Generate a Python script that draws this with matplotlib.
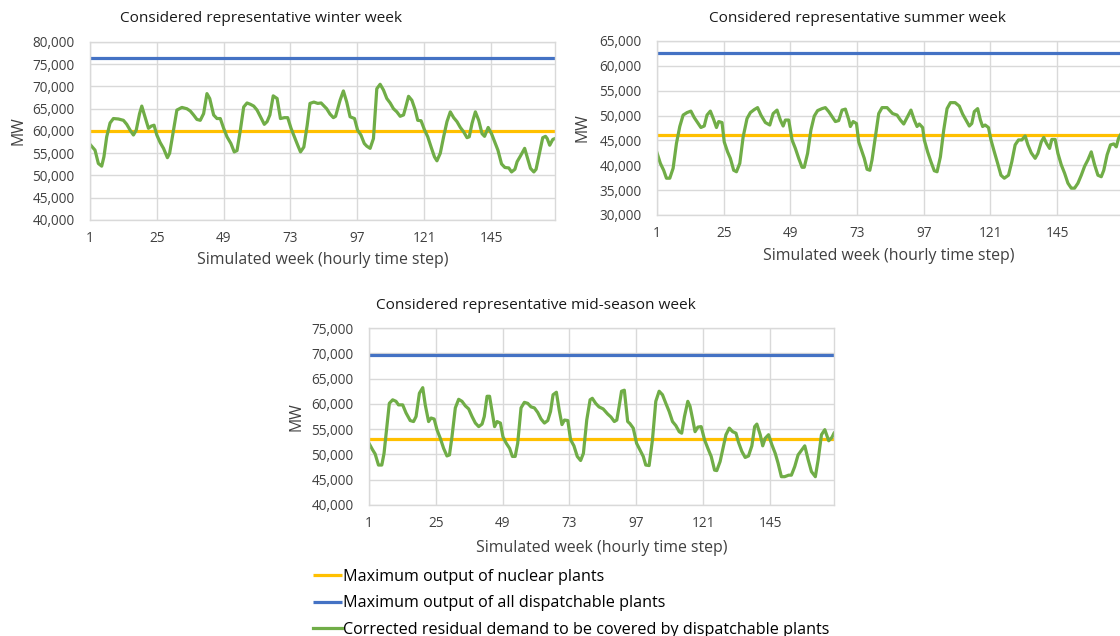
import matplotlib
matplotlib.use("Agg")
import matplotlib.pyplot as plt
from matplotlib.ticker import FuncFormatter

plt.rcParams['font.family'] = ['Open Sans', 'DejaVu Sans']

# ---------------- data ----------------
hour_ticks = [1, 25, 49, 73, 97, 121, 145]

winter_hour = [1, 2.8, 4, 5.2, 6, 7, 8.2, 9.4, 11.2, 13, 14.2, 15.4, 16.6, 17.6, 18.8, 19.6, 20.4, 22, 23, 24,
               25, 26.2, 27.4, 28.8, 29.6, 31, 32.2, 34, 35.8, 37, 38.2, 39.4, 40.6, 41.8, 43, 44, 45.4, 46.6, 47.8,
               49, 50.2, 51.6, 52.8, 53.8, 55, 56.2, 57.4, 58.6, 59.8, 61, 62.2, 63.6, 64.6, 65.6, 66.8, 68.2, 69.4,
               70.8, 72, 73.2, 74.4, 75.6, 76.6, 77.8, 79, 80, 81.4, 82.8, 84, 86, 87.2, 88.4, 89.2, 90.8, 92, 93.2,
               94.4, 96, 97.1, 98.3, 99.5, 100.4, 101.6, 102.8, 104, 105.2, 106.4, 107.6, 108.8, 110, 111.2, 112.4,
               113.6, 114.4, 115.4, 116.6, 117.8, 118.7, 119.9, 121.1, 122.3, 123.5, 124.7, 125.6, 126.8, 128, 129.2,
               130.4, 131.6, 132.8, 134, 135.2, 136.4, 137.2, 138.2, 139.4, 140.6, 141.8, 142.7, 144, 145.2, 146.3,
               147.5, 148.8, 150, 151.4, 152.4, 153.6, 154.4, 155.6, 157.1, 158, 159.2, 160.4, 161.2, 162.4, 163.6,
               164.6, 165.2, 166.1, 167.2, 168]
winter_mw = [57000, 55700, 52700, 52100, 54200, 58700, 61800, 62800, 62700, 62400, 61500, 60200, 59100, 60200,
             63900, 65600, 63900, 60600, 61100, 61300, 59100, 57400, 56100, 54000, 55000, 60200, 64700, 65300,
             65000, 64500, 63600, 62600, 62400, 63900, 68400, 67300, 63600, 62800, 62800, 60600, 58700, 57200,
             55300, 55600, 60200, 65400, 66300, 66000, 65600, 64700, 63200, 61500, 62100, 63600, 67900, 67300,
             62800, 63000, 63000, 60600, 58700, 56800, 55300, 56400, 61300, 66200, 66500, 66200, 66300, 65000,
             63800, 63000, 63300, 66900, 69000, 66500, 63200, 62800, 60200, 59100, 57200, 56600, 56100, 58300,
             69500, 70500, 69200, 67300, 66300, 65000, 64300, 63300, 63600, 65400, 67800, 66900, 64700, 62400,
             62300, 60300, 58700, 56400, 54200, 53300, 55000, 58700, 62100, 64300, 63000, 62100, 60800, 59800,
             58500, 58700, 61700, 64300, 62400, 59400, 58800, 60800, 59400, 57600, 55700, 52600, 51800, 51700,
             50800, 51400, 53100, 54400, 56100, 54200, 51600, 50800, 51400, 55000, 58500, 58800, 58300, 56800,
             58100, 58300]
winter_nuclear = 60000
winter_dispatchable = 76400

summer_hour = [1, 2.2, 3.4, 4.4, 5.6, 6.8, 8, 9.2, 10.4, 11.8, 13.2, 14.4, 15.6, 16.8, 18, 19, 20.2, 21.4, 22.4,
               23.2, 24.4, 25.2, 26.4, 27.4, 28.6, 29.6, 30.8, 32, 33.4, 34.6, 36, 37.2, 38.4, 40, 41.6, 42.8, 44.2,
               45.4, 46.4, 47.2, 48.4, 49.6, 50.8, 52, 53.2, 54, 55.2, 56.4, 57.6, 58.8, 60.4, 61.6, 62.8, 64, 65.2,
               66.4, 67.6, 68.8, 70, 70.6, 71.6, 72.8, 73.6, 74.8, 75.6, 76.6, 77.6, 78.4, 79.6, 80.8, 82, 83.8,
               85.8, 87.4, 88.6, 89.8, 91, 92.4, 93.6, 94.6, 95.4, 96.6, 97.2, 98.4, 99.6, 100.8, 101.8, 103, 104.2,
               105.4, 106.6, 108.3, 109.8, 111, 112.2, 113.4, 114.3, 115.2, 116.4, 117.4, 118.2, 119.1, 120.3,
               121.2, 122.4, 123.6, 124.8, 126, 127.5, 128.7, 129.9, 131.1, 132.3, 133.5, 134.5, 135.7, 137.1,
               138.1, 139.3, 140.2, 141.2, 142.3, 143.1, 144.3, 145.3, 146.5, 147.7, 148.9, 150.1, 151.3, 152.5,
               153.7, 154.9, 156.1, 157.3, 158.5, 159.7, 160.9, 161.8, 163, 164.2, 165.4, 166.3, 167.1, 168]
summer_mw = [42500, 40400, 39000, 37400, 37400, 39400, 44400, 47800, 50100, 50600, 50900, 49600, 48600, 47600,
             47900, 50100, 50900, 49200, 47600, 48800, 48600, 44700, 42700, 41400, 39000, 38700, 40400, 45700,
             49400, 50600, 51200, 51600, 50100, 48600, 48100, 50400, 51100, 49100, 47900, 49100, 49100, 45100,
             43400, 41400, 39600, 39600, 42400, 47100, 49900, 51000, 51400, 51600, 50800, 49800, 48800, 49000,
             51100, 51300, 49200, 47800, 48800, 48400, 44700, 42700, 41400, 39200, 39000, 41100, 45700, 50400,
             51600, 51600, 50400, 50100, 49100, 48300, 49600, 51100, 49100, 47800, 48300, 47600, 45100, 42700,
             40700, 38900, 38700, 41700, 47100, 51400, 52600, 52600, 51900, 50300, 49100, 47900, 48400, 50800,
             51400, 49100, 47800, 48100, 47600, 45100, 42700, 40400, 38000, 37400, 38000, 40700, 44100, 45100,
             45100, 45900, 44100, 42500, 41400, 42400, 44700, 45600, 44400, 43400, 45200, 45200, 42400, 40100,
             38400, 36400, 35400, 35400, 36400, 38000, 39800, 41100, 42700, 40100, 38000, 37700, 39000, 42100,
             44100, 44300, 43700, 45400, 46300]
summer_nuclear = 46000
summer_dispatchable = 62600

mid_hour = [1, 2.3, 3.2, 4.4, 5.6, 6.4, 7.4, 8.3, 9.5, 10.7, 11.6, 13.1, 14.3, 15.8, 17, 17.9, 19.1, 20.3, 21.2,
            22.4, 23.3, 24.4, 25.4, 26.6, 27.8, 29, 29.9, 30.8, 32, 33.2, 34.4, 35.6, 36.8, 38, 39.2, 40.4, 41.6,
            42.4, 43.4, 44.3, 45.2, 46.1, 47, 48.2, 49.1, 50.3, 51.5, 52.5, 53.5, 54.4, 55.6, 56.8, 58, 59.2,
            60.4, 61.6, 62.8, 64, 65.2, 66.2, 67.1, 68.3, 69.3, 70.3, 71.2, 72.4, 73.4, 74.6, 75.8, 77, 78, 79.2,
            80.4, 81.2, 82.4, 83.6, 85.1, 86.7, 87.9, 89.1, 90, 90.8, 91.7, 92.7, 93.9, 94.7, 95.9, 97.1, 98.3,
            99.5, 100.4, 101.6, 102.8, 104, 105.2, 106.4, 107.6, 108.8, 110, 111.2, 112.4, 113.3, 114.3, 115.5,
            116.3, 117.3, 118.1, 119.1, 120.3, 121.5, 122.7, 123.9, 125.1, 125.9, 127.1, 128.3, 129.2, 130.4,
            131.6, 132.8, 133.7, 134.9, 136.1, 137.3, 138.5, 139.5, 140.3, 141.5, 142.4, 143.3, 144.5, 145.7,
            146.9, 147.9, 149.1, 150.3, 151.7, 152.7, 153.9, 155.1, 156.3, 157.5, 158.7, 159.9, 161.3, 162.3,
            163.5, 164.7, 166.1, 167.3, 168]
mid_mw = [52200, 50900, 50100, 47900, 47900, 50200, 55500, 60100, 60800, 60500, 59800, 59800, 58200, 56700,
          56500, 57500, 62100, 63200, 59800, 56500, 57200, 57000, 54900, 53200, 51200, 49700, 49900, 53500, 59200,
          60900, 60500, 59600, 59000, 57500, 56200, 55500, 56000, 57500, 61500, 61500, 58500, 55500, 56500, 56200,
          53500, 52200, 51200, 49600, 49600, 52200, 59200, 60300, 60100, 59400, 59200, 58300, 57000, 56200, 56700,
          58500, 61800, 62300, 58800, 55900, 56800, 56700, 52900, 51700, 49600, 48800, 50200, 56800, 60800, 61100,
          60100, 59400, 59000, 58000, 57400, 56500, 56800, 59400, 62500, 62700, 56500, 56100, 55200, 52200, 50900,
          49600, 47900, 47800, 52900, 60500, 62500, 61800, 60100, 58500, 56500, 55700, 54500, 54200, 57500, 60500,
          59500, 56800, 54500, 55400, 55500, 52900, 51200, 49600, 46900, 46800, 48600, 51600, 53900, 55200, 54500,
          54200, 52400, 50600, 49400, 49700, 51700, 55500, 56000, 53900, 51700, 53200, 53900, 51900, 50200, 48300,
          45600, 45600, 45900, 45900, 47600, 49900, 50800, 51700, 49000, 46600, 45600, 48900, 53900, 54900, 52700,
          53400, 54200]
mid_nuclear = 53000
mid_dispatchable = 69700

titles = ["Considered representative winter week",
          "Considered representative summer week",
          "Considered representative mid-season week"]
xlabel_text = "Simulated week (hourly time step)"
ylabel_text = "MW"
legend_labels = ["Maximum output of nuclear plants",
                 "Maximum output of all dispatchable plants",
                 "Corrected residual demand to be covered by dispatchable plants"]

# ---------------- styling ----------------
C_NUC = "#FFC000"
C_DIS = "#4472C4"
C_RES = "#70AD47"
GRID = "#D9D9D9"
TXT = "#1A1A1A"
TICK_TXT = "#404040"

W, H = 1120, 636
fig = plt.figure(figsize=(W / 100, H / 100), dpi=100)


def rect(x0, x1, ytop, ybot):
    return [x0 / W, 1 - ybot / H, (x1 - x0) / W, (ybot - ytop) / H]


panels = [
    dict(r=rect(90, 555, 42, 220), h=winter_hour, v=winter_mw, nuc=winter_nuclear, dis=winter_dispatchable,
         ylim=(40000, 80000), title=titles[0], tx=261, ty=18, xl_y=260, yl_x=18),
    dict(r=rect(657, 1121, 41, 215), h=summer_hour, v=summer_mw, nuc=summer_nuclear, dis=summer_dispatchable,
         ylim=(30000, 65000), title=titles[1], tx=857, ty=18, xl_y=256, yl_x=583),
    dict(r=rect(369, 834, 328, 505), h=mid_hour, v=mid_mw, nuc=mid_nuclear, dis=mid_dispatchable,
         ylim=(40000, 75000), title=titles[2], tx=536, ty=305, xl_y=548, yl_x=296),
]

fmt = FuncFormatter(lambda v, p: f"{int(v):,}")
handles = None
for p in panels:
    ax = fig.add_axes(p["r"])
    l1, = ax.plot([1, 168], [p["nuc"], p["nuc"]], color=C_NUC, lw=2.3, solid_capstyle='butt')
    l2, = ax.plot([1, 168], [p["dis"], p["dis"]], color=C_DIS, lw=2.3, solid_capstyle='butt')
    l3, = ax.plot(p["h"], p["v"], color=C_RES, lw=2.3, solid_joinstyle='round')
    handles = [l1, l2, l3]
    ax.set_xlim(1, 168)
    ax.set_ylim(*p["ylim"])
    ax.set_yticks(range(p["ylim"][0], p["ylim"][1] + 1, 5000))
    ax.yaxis.set_major_formatter(fmt)
    ax.set_xticks(hour_ticks)
    ax.grid(True, color=GRID, lw=1.0)
    ax.set_axisbelow(True)
    for s in ax.spines.values():
        s.set_color(GRID)
        s.set_linewidth(1.0)
    ax.tick_params(length=0, labelsize=9.8, colors=TICK_TXT, pad=8)
    ax.tick_params(axis='y', pad=11)
    for lab in ax.get_xticklabels() + ax.get_yticklabels():
        lab.set_color(TICK_TXT)
    x0, y0, w, h = p["r"]
    fig.text(p["tx"] / W, 1 - p["ty"] / H, p["title"], ha='center', va='center', fontsize=11.1, color=TXT)
    fig.text(x0 + w / 2, 1 - p["xl_y"] / H, xlabel_text, ha='center', va='center', fontsize=11.4, color=TICK_TXT)
    fig.text(p["yl_x"] / W, y0 + h / 2, ylabel_text, ha='center', va='center', rotation=90, fontsize=11.4,
             color=TICK_TXT)

fig.legend(handles, legend_labels, loc='upper left', bbox_to_anchor=(313 / W, 1 - 569 / H),
           frameon=False, fontsize=11.6, handlelength=1.8, handletextpad=0.05, labelspacing=0.64,
           borderaxespad=0, borderpad=0)

fig.savefig("out.png", dpi=100)
